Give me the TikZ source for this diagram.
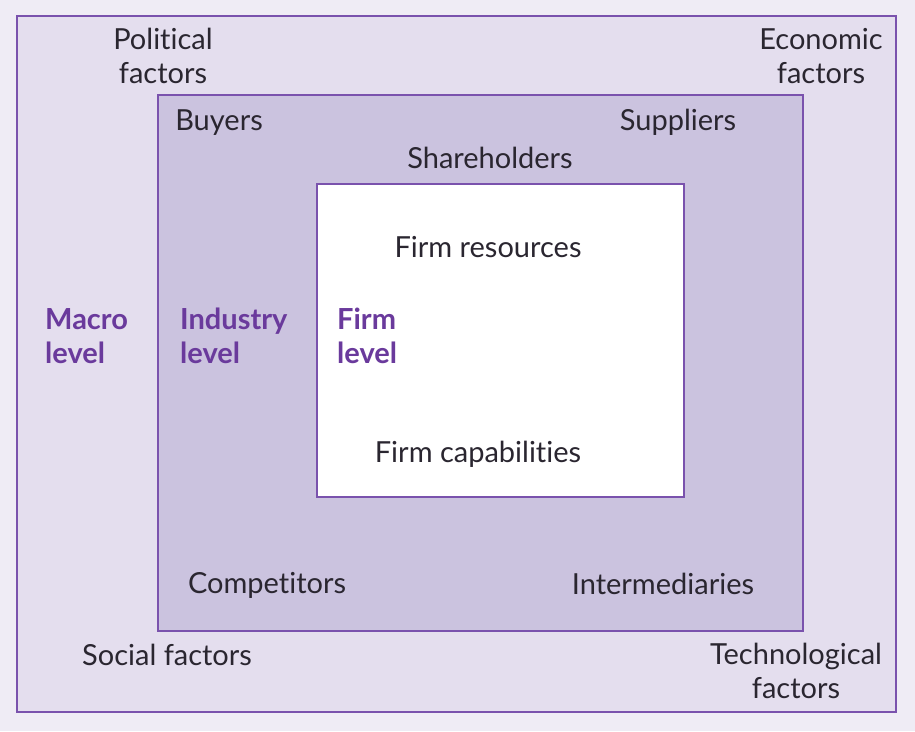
\documentclass[tikz,border=0pt]{standalone}
\usepackage{fontspec}
\setmainfont[Ligatures={NoCommon}]{Lato}
\definecolor{bgc}{HTML}{EFECF5}
\definecolor{macroc}{HTML}{E4DEEE}
\definecolor{indc}{HTML}{CBC3DF}
\definecolor{edgec}{HTML}{7A52AD}
\definecolor{labc}{HTML}{6A3A9C}
\definecolor{txtc}{HTML}{2A2630}
\tikzset{
  x=1pt,y=-1pt,
  lvlbox/.style={draw=edgec,line width=1.3pt},
  factor/.style={font=\fontsize{29}{33.5}\selectfont,text=txtc,align=center,inner sep=0pt},
  level/.style={font=\fontsize{29}{34}\selectfont\bfseries,text=labc,align=left,anchor=west,inner sep=0pt},
}
\begin{document}
\begin{tikzpicture}
\fill[bgc] (0,0) rectangle (915,731);
\useasboundingbox (0,0) rectangle (915,731);
\draw[lvlbox,fill=macroc] (17,16) rectangle (896,712);
\draw[lvlbox,fill=indc] (158,95) rectangle (803,631);
\draw[lvlbox,fill=white] (317,184) rectangle (684,497);
\node[factor] (pol) at (163,56) {Political\\factors};
\node[factor] (eco) at (821,56) {Economic\\factors};
\node[factor] (buy) at (219,123) {Buyers};
\node[factor] (sup) at (678,122) {Suppliers};
\node[factor] (sha) at (490,158) {Shareholders};
\node[factor] (res) at (488,247) {Firm resources};
\node[factor] (cap) at (478,454) {Firm capabilities};
\node[factor] (com) at (267,585) {Competitors};
\node[factor] (int) at (663,584) {Intermediaries};
\node[factor] (soc) at (167,655) {Social factors};
\node[factor] (tec) at (796,671) {Technological\\factors};
\node[level] (mac) at (45,336) {Macro\\level};
\node[level] (ind) at (180,336) {Industry\\level};
\node[level] (fir) at (337,336) {Firm\\level};
\end{tikzpicture}
\end{document}
